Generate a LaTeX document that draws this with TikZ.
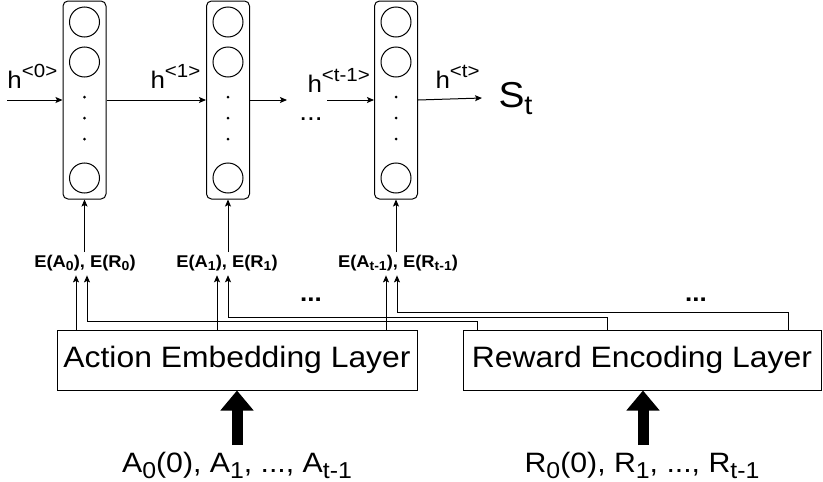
\documentclass[tikz,border=0pt]{standalone}
\usepackage{fontspec}
\setmainfont{Liberation Sans}[FakeStretch=1.08]
\usetikzlibrary{arrows.meta}
\newcommand{\hsup}[1]{\raisebox{0.42em}{\fontsize{19}{19}\selectfont #1}}
\newcommand{\lsub}[2]{\raisebox{-0.22em}{\fontsize{#1}{#1}\selectfont #2}}
\begin{document}
\begin{tikzpicture}[x=1pt,y=-1pt, line width=1pt,
  arr/.style={-{Stealth[length=7pt,width=6pt,inset=1.5pt]}},
  colbox/.style={draw, rounded corners=5pt, minimum width=43pt, minimum height=198pt, inner sep=0},
  neuron/.style={draw, circle, minimum size=30pt, inner sep=0},
  layer/.style={draw, minimum height=60pt, inner sep=0, font=\fontsize{29.5}{34}\selectfont},
  elab/.style={font=\bfseries\fontsize{17}{20}\selectfont, inner sep=0pt, anchor=base},
  hlab/.style={anchor=base west, inner sep=0pt, font=\fontsize{24}{28}\selectfont},
  botlab/.style={anchor=base, inner sep=0pt, font=\fontsize{28}{34}\selectfont},
  dotslab/.style={inner sep=0pt, font=\bfseries\fontsize{24}{28}\selectfont},
  big/.style={line width=11pt, -{Triangle[width=32pt,length=20pt]}}
]
\useasboundingbox (0,0) rectangle (823,482);

% recurrent cells
\node[colbox] (c1) at (84.5,100) {};
\node[colbox] (c2) at (228,100) {};
\node[colbox] (c3) at (396,100) {};
\foreach \c/\x in {c1/84.5, c2/228, c3/396} {
  \node[neuron] (\c n1) at (\x,22) {};
  \node[neuron] (\c n2) at (\x,62) {};
  \node[neuron] (\c n3) at (\x,178) {};
  \fill (\x,97) circle (1.5pt);
  \fill (\x,118) circle (1.5pt);
  \fill (\x,139) circle (1.5pt);
}

% hidden state arrows
\coordinate (h0s) at (7,100);
\coordinate (g1) at (287,100);
\coordinate (g2) at (327,100);
\coordinate (hend) at (482,98);
\draw[arr] (h0s) -- (c1.west);
\draw[arr] (c1.east) -- (c2.west);
\draw[arr] (c2.east) -- (g1);
\draw[arr] (g2) -- (c3.west);
\draw[arr] (c3.east) -- (hend);

\node[hlab] (lh0) at (7,88) {h\hsup{<0>}};
\node[hlab] (lh1) at (150,88) {h\hsup{<1>}};
\node[hlab] (lht1) at (307,92) {h\hsup{<t-1>}};
\node[hlab] (lht) at (435,88) {h\hsup{<t>}};
\node[anchor=base west, inner sep=0pt, font=\fontsize{36}{40}\selectfont] (st) at (498,107) {S\lsub{27}{t}};
\node[inner sep=0pt, font=\fontsize{26}{30}\selectfont] (hdots) at (311,119) {...};

% embedding labels
\node[elab] (e1) at (85,267) {E(A\lsub{13}{0}), E(R\lsub{13}{0})};
\node[elab] (e2) at (227,267) {E(A\lsub{13}{1}), E(R\lsub{13}{1})};
\node[elab] (e3) at (398,267) {E(A\lsub{13}{t-1}), E(R\lsub{13}{t-1})};
\draw[arr] (c1.south |- e1.north) ++(0,-2) -- (c1.south);
\draw[arr] (c2.south |- e2.north) ++(0,-2) -- (c2.south);
\draw[arr] (c3.south |- e3.north) ++(0,-2) -- (c3.south);

\node[dotslab] (d1) at (311,300) {...};
\node[dotslab] (d2) at (696,300) {...};

% layers
\node[layer, minimum width=360pt] (ae) at (237,360) {Action Embedding Layer};
\node[layer, minimum width=358pt] (re) at (642,360) {Reward Encoding Layer};

% action connections
\coordinate (xa1) at (76,0);
\coordinate (xa2) at (217,0);
\coordinate (xa3) at (386,0);
\foreach \i in {1,2,3} {
  \draw[arr] (ae.north -| xa\i) -- ([yshift=-4pt]e\i.south -| xa\i);
}

% reward connections
\coordinate (xr1) at (87,321);
\coordinate (xr2) at (228,317);
\coordinate (xr3) at (397,312);
\coordinate (sr1) at (477,321);
\coordinate (sr2) at (607,317);
\coordinate (sr3) at (788,312);
\foreach \i in {1,2,3} {
  \draw[arr] (re.north -| sr\i) -- (sr\i) -- (xr\i) -- ([yshift=-4pt]e\i.south -| xr\i);
}

% inputs
\node[botlab] (ain) at (237,472) {A\lsub{23}{0}(0), A\lsub{23}{1}, ..., A\lsub{23}{t-1}};
\node[botlab] (rin) at (642,472) {R\lsub{23}{0}(0), R\lsub{23}{1}, ..., R\lsub{23}{t-1}};
\coordinate (abase) at (237,445);
\coordinate (rbase) at (643,445);
\draw[big] (abase) -- (ae.south);
\draw[big] (rbase) -- (re.south -| rbase);
\end{tikzpicture}
\end{document}
